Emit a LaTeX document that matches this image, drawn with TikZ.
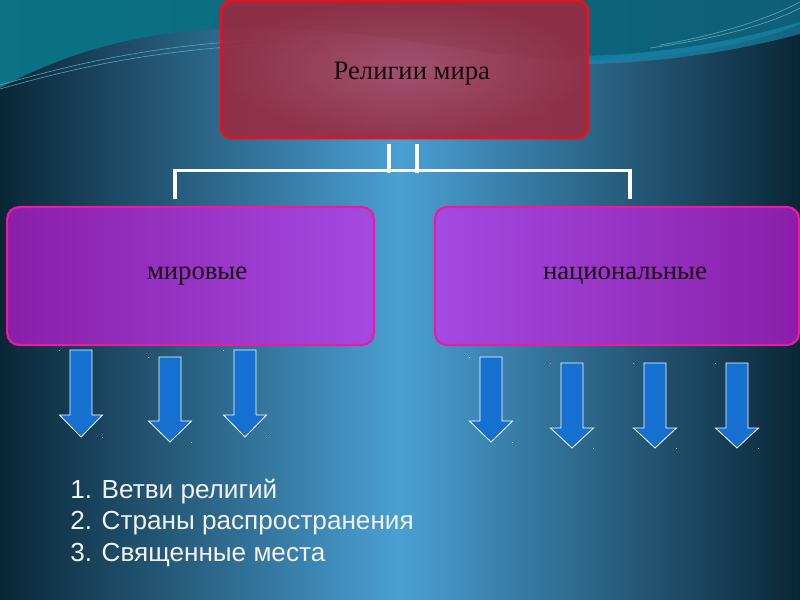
\documentclass[tikz,border=0pt]{standalone}
\usepackage{fontspec}
\setmainfont{Liberation Serif}
\newfontfamily\listfont{Liberation Sans}
\usetikzlibrary{calc}
\definecolor{bgdark}{HTML}{0A2636}
\definecolor{bglight}{HTML}{4AA0D4}
\definecolor{teal1}{HTML}{0B7385}
\definecolor{teal2}{HTML}{0E5E78}
\definecolor{swoosh}{HTML}{1A8FB5}
\definecolor{redfill}{HTML}{9A2A42}
\definecolor{redfillc}{HTML}{A84A64}
\definecolor{redline}{HTML}{E8101A}
\definecolor{purdark}{HTML}{8A1EA8}
\definecolor{purlight}{HTML}{A34AE2}
\definecolor{purline}{HTML}{E81CA0}
\definecolor{arrblue}{HTML}{1570D0}
\definecolor{boxtext}{HTML}{1A0810}
\definecolor{listtext}{HTML}{F2F2F2}
\tikzset{
  topbox/.style={rectangle, rounded corners=7.5pt, draw=redline, line width=1.9pt,
    minimum width=275pt, minimum height=103pt, inner sep=0pt},
  boxlabel/.style={font=\fontsize{20}{24}\selectfont, text=boxtext, inner sep=0pt},
  subbox/.style={rectangle, rounded corners=9pt, draw=purline, line width=1.6pt,
    minimum height=103.5pt, inner sep=0pt,
    font=\fontsize{20}{24}\selectfont, text=boxtext},
  conn/.style={draw=white, line width=2.3pt, line join=miter},
  arrowst/.style={fill=arrblue, draw=white, line width=0.6pt, line join=miter},
  listtxt/.style={anchor=west, inner sep=0pt, text=listtext, font=\listfont\fontsize{19.6}{23}\selectfont}
}
\newcommand\dnarrow[4]{%
  \draw[arrowst] (#1-11,#2) -- (#1+11,#2) -- (#1+11,#3) -- (#1+21.5,#3) -- (#1,#4)
    -- (#1-21.5,#3) -- (#1-11,#3) -- cycle;
  \fill[white] (#1-22,#2) rectangle ++(1,1);
  \fill[white] (#1+21,#4) rectangle ++(1,1);
}
\begin{document}
\begin{tikzpicture}[x=0.75pt,y=-0.75pt]
\useasboundingbox (0,0) rectangle (800,600);
% background
\shade[left color=bgdark, right color=bglight] (0,0) rectangle (400,600);
\shade[left color=bglight, right color=bgdark] (400,0) rectangle (800,600);
% top teal wave
\shade[left color=teal1, right color=teal2]
  (0,0) -- (0,88) .. controls (80,45) and (160,28) .. (260,28)
  .. controls (400,30) and (480,60) .. (590,60)
  .. controls (680,58) and (760,42) .. (800,24) -- (800,0) -- cycle;
\fill[swoosh, opacity=0.6]
  (570,56) .. controls (660,56) and (740,40) .. (800,22)
  -- (800,34) .. controls (740,50) and (670,62) .. (590,64)
  .. controls (580,63) and (574,60) .. (570,56) -- cycle;
\draw[swoosh!70!white, line width=0.5pt, opacity=0.8] (0,85) .. controls (80,62) and (160,45) .. (260,40);
\draw[swoosh!70!white, line width=0.5pt, opacity=0.8] (0,89) .. controls (80,66) and (160,50) .. (260,45);
\draw[swoosh!60!white, line width=0.5pt, opacity=0.7] (660,45) .. controls (720,35) and (770,18) .. (800,2);
\draw[swoosh!60!white, line width=0.5pt, opacity=0.7] (650,48) .. controls (720,38) and (770,24) .. (800,8);
% top box
\shade[inner color=redfillc, outer color=redfill, opacity=0.9, rounded corners=7.5pt]
  (221,1) rectangle (588,138);
\node[topbox, label={[boxlabel, xshift=5.5pt, yshift=-3pt]center:Религии мира}] (top) at (404.5,69.5) {};
% sub boxes
\shade[left color=purdark, right color=purlight, rounded corners=9pt] (7,207) rectangle (374,345);
\node[subbox, minimum width=275pt] (wl) at (190.5,276) {\hspace{10pt}мировые};
\shade[left color=purlight, right color=purdark, rounded corners=9pt] (435,207) rectangle (799,345);
\node[subbox, minimum width=273pt] (nl) at (617,276) {\hspace{12pt}национальные};
% connectors
\draw[conn] ($(top.south)+(-15.5,5)$) -- ($(top.south)+(-15.5,34)$);
\draw[conn] ($(top.south)+(12.5,5)$) -- ($(top.south)+(12.5,34)$);
\draw[conn] ($(wl.north)+(-15.5,-7)$) |- ($(nl.north)+(13,-35)$) -- ($(nl.north)+(13,-7)$);
% arrows
\dnarrow{81}{350}{415}{437}
\dnarrow{170}{357}{421}{442}
\dnarrow{245}{350}{415}{437}
\dnarrow{491}{357}{421}{442}
\dnarrow{572}{363}{428}{448}
\dnarrow{655}{363}{428}{448}
\dnarrow{737}{363}{428}{448}
% list
\node[listtxt] (l1) at (70,492) {1. Ветви религий};
\node[listtxt] (l2) at (70,523) {2. Страны распространения};
\node[listtxt] (l3) at (70,555) {3. Священные места};
\end{tikzpicture}
\end{document}
